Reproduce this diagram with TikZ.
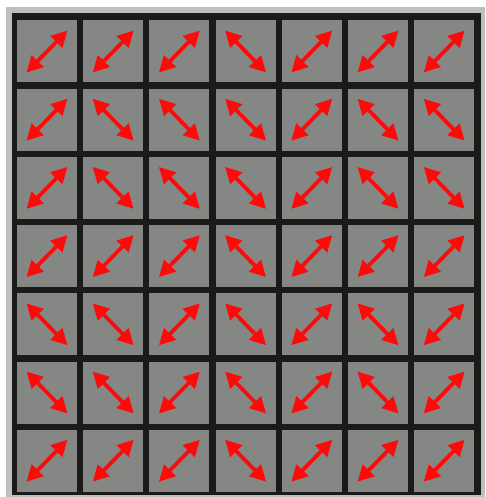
\documentclass[tikz,border=0pt]{standalone}
\usetikzlibrary{arrows.meta,calc}
\definecolor{boardgray}{HTML}{BEC0BC}
\definecolor{cellgray}{HTML}{858784}
\definecolor{boardblack}{HTML}{1A1B18}
\definecolor{arrowred}{HTML}{FF0A0A}
\tikzset{
  cell/.style={fill=cellgray, draw=none, minimum width=60pt, minimum height=62pt, inner sep=0pt},
  dirarrow/.style={draw=arrowred, line width=3.8pt,
    {Triangle[length=16pt,width=16pt]}-{Triangle[length=16pt,width=16pt]}}
}
\begin{document}
\begin{tikzpicture}[x=1pt,y=-1pt]
\useasboundingbox (0,0) rectangle (485,497);
\fill[white] (0,0) rectangle (485,497);
\fill[boardgray] (6,7) rectangle (485,497);
\fill[boardblack] (12,13) rectangle (481,495);
\foreach \r/\pat in {1/{0,0,0,1,0,0,0},2/{0,1,1,1,0,1,1},3/{0,1,1,1,0,1,1},4/{0,0,0,1,0,0,0},5/{1,1,0,1,0,1,0},6/{1,1,0,1,0,1,0},7/{0,0,0,1,0,0,0}}{
  \foreach \d [count=\c] in \pat {
    \node[cell] (c\r\c) at ({47+66.2*(\c-1)},{51.5+68.2*(\r-1)}) {};
    \ifnum\d=0
      \coordinate (a\r\c) at ($(c\r\c.center)+(-20.5,21)$);
      \coordinate (b\r\c) at ($(c\r\c.center)+(20.5,-21)$);
    \else
      \coordinate (a\r\c) at ($(c\r\c.center)+(-20.5,-21)$);
      \coordinate (b\r\c) at ($(c\r\c.center)+(20.5,21)$);
    \fi
    \draw[dirarrow] (a\r\c) -- (b\r\c);
  }
}
\end{tikzpicture}
\end{document}
